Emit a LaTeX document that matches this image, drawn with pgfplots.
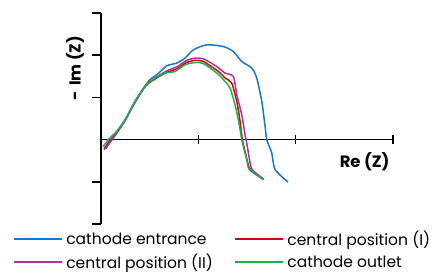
\documentclass[border=0pt]{standalone}
\usepackage{fontspec}
\setmainfont{Poppins}
\usepackage{pgfplots}
\pgfplotsset{compat=1.18}
\definecolor{cblue}{HTML}{1A76C8}
\definecolor{cred}{HTML}{CC0A0A}
\definecolor{cmag}{HTML}{A4369F}
\definecolor{cgreen}{HTML}{1DB14F}
\begin{document}
\begin{tikzpicture}
\path[use as bounding box] (-101bp,-51bp) rectangle (331bp,224bp);
\begin{axis}[
  at={(0,0)}, anchor=south west,
  scale only axis, width=292bp, height=211bp,
  xmin=0, xmax=3, ymin=-2, ymax=3,
  axis lines=middle,
  x axis line style={-, line width=1.6pt},
  y axis line style={-, line width=1.6pt},
  xtick={1,2,3}, ytick={-2,-1,1,2,3},
  xticklabels={}, yticklabels={},
  x tick style={line width=1.6pt, black},
  y tick style={line width=1.6pt, black},
  xtick align=center, ytick align=outside,
  major tick length=9bp,
  clip=false,
  xlabel={\bfseries Re (Z)},
  ylabel={\bfseries -\hspace{0.35em}Im (Z)},
  xlabel style={at={(rel axis cs:0.903,0.295)}, anchor=center, inner sep=0pt, font=\fontsize{16.5}{19}\selectfont},
  ylabel style={at={(rel axis cs:-0.089,0.737)}, anchor=center, inner sep=0pt, rotate=90, font=\fontsize{16}{19}\selectfont},
  legend columns=2,
  legend style={at={(rel axis cs:-0.301,-0.028)}, anchor=north west, draw=none, fill=none,
    font=\fontsize{15.6}{17}\selectfont, inner sep=0pt, row sep=5bp,
    nodes={inner xsep=3.5bp, inner ysep=1bp},
    /tikz/every even column/.append style={column sep=18bp}},
  legend cell align=left,
  legend image code/.code={\draw[#1, line width=1.5pt] (0bp,0bp) -- (48bp,0bp);},
  every axis plot/.append style={line width=1.5pt, smooth, tension=0.4},
]
\addplot[cblue] coordinates {
(0.051,-0.213) (0.092,-0.071) (0.144,0.095) (0.247,0.449) (0.349,0.875)
(0.486,1.378) (0.586,1.56) (0.675,1.749) (0.778,1.813) (0.863,1.931)
(0.949,2.128) (1.086,2.246) (1.257,2.206) (1.360,2.087) (1.446,1.851)
(1.549,1.695) (1.600,1.459) (1.652,0.905) (1.686,0.314) (1.703,0)
(1.754,-0.314) (1.788,-0.709) (1.922,-1.009)};
\addlegendentry{cathode entrance}
\addplot[cred] coordinates {
(0.031,-0.213) (0.082,-0.047) (0.164,0.189) (0.247,0.461) (0.349,0.898)
(0.462,1.277) (0.576,1.466) (0.678,1.596) (0.781,1.678) (0.874,1.82)
(0.966,1.879) (1.051,1.851) (1.206,1.615) (1.275,1.459) (1.343,1.340)
(1.395,0.905) (1.429,0.433) (1.452,0) (1.480,-0.284) (1.521,-0.662)
(1.552,-0.757) (1.670,-0.946)};
\addlegendentry{central position (I)}
\addplot[cmag] coordinates {
(0.031,-0.236) (0.082,-0.095) (0.164,0.165) (0.247,0.449) (0.349,0.898)
(0.462,1.30) (0.576,1.489) (0.678,1.631) (0.781,1.726) (0.874,1.868)
(0.966,1.931) (1.051,1.915) (1.189,1.733) (1.275,1.577) (1.360,1.496)
(1.395,1.064) (1.446,0.591) (1.480,0.118) (1.497,-0.078) (1.539,-0.631)
(1.573,-0.757) (1.668,-0.929)};
\addlegendentry{central position (II)}
\addplot[cgreen] coordinates {
(0.021,-0.165) (0.075,0) (0.161,0.196) (0.247,0.473) (0.349,0.905)
(0.452,1.26) (0.555,1.459) (0.658,1.577) (0.760,1.615) (0.863,1.773)
(0.966,1.827) (1.051,1.804) (1.189,1.577) (1.275,1.378) (1.326,1.222)
(1.377,0.827) (1.421,0.355) (1.446,0) (1.497,-0.473) (1.524,-0.709)
(1.668,-0.946)};
\addlegendentry{cathode outlet}
\end{axis}
\end{tikzpicture}
\end{document}
